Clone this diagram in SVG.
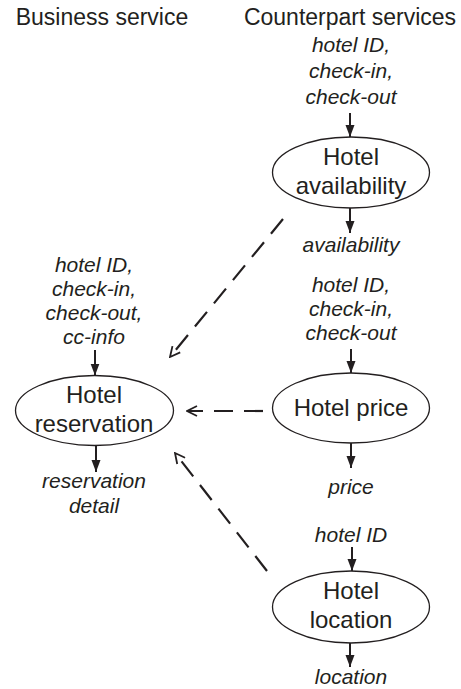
<svg xmlns="http://www.w3.org/2000/svg" width="461" height="689" viewBox="0 0 461 689">
<style>
.hdr{font-family:"Liberation Sans",Arial,sans-serif;font-size:23px;fill:#231f20;text-anchor:middle}
.node{font-family:"Liberation Sans",Arial,sans-serif;font-size:24px;fill:#231f20;text-anchor:middle}
.lbl{font-family:"Liberation Sans",Arial,sans-serif;font-size:21px;font-style:italic;fill:#231f20;text-anchor:middle}
.ell{fill:#fff;stroke:#231f20;stroke-width:1.3}
.sol{stroke:#231f20;stroke-width:2;fill:none;marker-end:url(#fa)}
.dash{stroke:#231f20;stroke-width:2.2;fill:none;stroke-dasharray:19 11;marker-end:url(#oa)}
</style>
<defs>
<marker id="fa" viewBox="0 0 12 10" refX="12" refY="5" markerWidth="12" markerHeight="10" markerUnits="userSpaceOnUse" orient="auto">
<path d="M0,0.5 L12,5 L0,9.5 Z" fill="#231f20"/>
</marker>
<marker id="oa" viewBox="0 0 12 12" refX="11" refY="6" markerWidth="12" markerHeight="12" markerUnits="userSpaceOnUse" orient="auto">
<path d="M1,1 L11,6 L1,11" fill="none" stroke="#231f20" stroke-width="1.8"/>
</marker>
</defs>
<g id="headers">
<text class="hdr" x="102" y="25">Business service</text>
<text class="hdr" x="350" y="25">Counterpart services</text>
</g>
<g id="labels">
<text class="lbl" x="351" y="52">hotel ID,</text>
<text class="lbl" x="351" y="78">check-in,</text>
<text class="lbl" x="351" y="104">check-out</text>
<text class="lbl" x="351" y="252">availability</text>
<text class="lbl" x="351" y="292">hotel ID,</text>
<text class="lbl" x="351" y="316">check-in,</text>
<text class="lbl" x="351" y="340">check-out</text>
<text class="lbl" x="351" y="494">price</text>
<text class="lbl" x="351" y="542">hotel ID</text>
<text class="lbl" x="351" y="684">location</text>
<text class="lbl" x="94" y="272">hotel ID,</text>
<text class="lbl" x="94" y="296">check-in,</text>
<text class="lbl" x="94" y="320">check-out,</text>
<text class="lbl" x="94" y="344">cc-info</text>
<text class="lbl" x="94" y="488">reservation</text>
<text class="lbl" x="94" y="513">detail</text>
</g>
<g id="availability">
<ellipse class="ell" cx="351" cy="172.5" rx="78.5" ry="35.5"/>
<text class="node" x="351" y="165">Hotel</text>
<text class="node" x="351" y="194">availability</text>
</g>
<g id="reservation">
<ellipse class="ell" cx="94.5" cy="410.5" rx="79" ry="35"/>
<text class="node" x="94" y="403">Hotel</text>
<text class="node" x="94" y="432">reservation</text>
</g>
<g id="price">
<ellipse class="ell" cx="351" cy="408" rx="78.5" ry="35"/>
<text class="node" x="351" y="416">Hotel price</text>
</g>
<g id="location">
<ellipse class="ell" cx="351" cy="607" rx="78.5" ry="36"/>
<text class="node" x="351" y="599">Hotel</text>
<text class="node" x="351" y="628">location</text>
</g>
<g id="connectors">
<line class="sol" x1="350" y1="113" x2="350" y2="137"/>
<line class="sol" x1="350" y1="208" x2="350" y2="233"/>
<line class="sol" x1="351" y1="349" x2="351" y2="373"/>
<line class="sol" x1="351" y1="443" x2="351" y2="468"/>
<line class="sol" x1="352" y1="547" x2="352" y2="571"/>
<line class="sol" x1="350" y1="643" x2="350" y2="667"/>
<line class="sol" x1="95" y1="350" x2="95" y2="375.5"/>
<line class="sol" x1="96" y1="445.5" x2="96" y2="472"/>
<line class="dash" x1="283" y1="219" x2="170" y2="357"/>
<line class="dash" x1="263" y1="411" x2="187" y2="411"/>
<line class="dash" x1="267" y1="571" x2="175" y2="453"/>
</g>
</svg>
